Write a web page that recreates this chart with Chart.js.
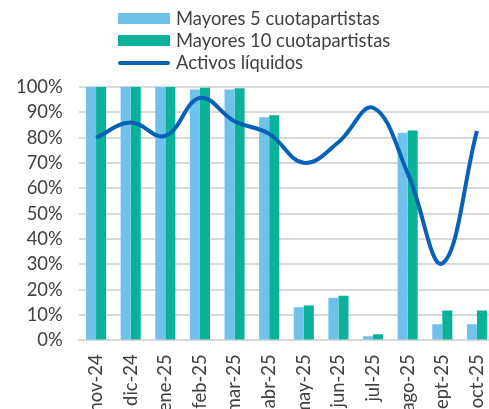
<!DOCTYPE html>
<html>
<head>
<meta charset="utf-8">
<script src="https://cdn.jsdelivr.net/npm/chart.js@4"></script>
<style>
    html, body { margin: 0; padding: 0; background: #fff; overflow: hidden; }
    #wrap { position: relative; width: 489px; height: 409px; overflow: hidden; }
    #box { position: absolute; left: 0; top: 0; width: 513px; height: 431px; }
    #legend { position: absolute; left: 118px; top: 7px; font-family: Lato, sans-serif; font-size: 18.4px; color: #404040; }
    .item { height: 22px; line-height: 22px; white-space: nowrap; }
    .sw { display: inline-block; width: 52px; height: 11px; vertical-align: middle; margin-right: 6px; margin-top: -3px; }
    .ln { display: inline-block; width: 52px; height: 4px; border-radius: 2px; vertical-align: middle; margin-right: 6px; margin-top: -3px; }
</style>
</head>
<body>
<div id="wrap">
    <div id="box"><canvas id="chart" width="513" height="431"></canvas></div>
    <div id="legend"></div>
</div>
<script>
const months = ['nov-24', 'dic-24', 'ene-25', 'feb-25', 'mar-25', 'abr-25', 'may-25', 'jun-25', 'jul-25', 'ago-25', 'sept-25', 'oct-25'];
const top5 = [100, 100, 100, 99, 99, 88.1, 13.1, 16.8, 1.6, 81.9, 6.4, 6.4];
const top10 = [100, 100, 100, 99.7, 99.5, 88.9, 13.8, 17.6, 2.4, 82.8, 11.8, 11.8];
const liquid = [80, 86, 80.7, 95.7, 86.5, 81.5, 70.1, 78.2, 91.8, 66, 30.4, 82.6];
const yTicks = [0, 10, 20, 30, 40, 50, 60, 70, 80, 90, 100];

const colTop5 = '#6FC2EA';
const colTop10 = '#0BB29A';
const colLine = '#0562B6';

document.getElementById('legend').innerHTML =
    `<div class="item"><span class="sw" style="background:${colTop5}"></span>Mayores 5 cuotapartistas</div>` +
    `<div class="item"><span class="sw" style="background:${colTop10}"></span>Mayores 10 cuotapartistas</div>` +
    `<div class="item"><span class="ln" style="background:${colLine}"></span>Activos líquidos</div>`;

const ctx = document.getElementById('chart').getContext('2d');
new Chart(ctx, {
    type: 'bar',
    data: {
        labels: months,
        datasets: [
            {
                type: 'line',
                label: 'Activos líquidos',
                data: liquid,
                borderColor: colLine,
                borderWidth: 4,
                pointRadius: 0,
                tension: 0.4,
                fill: false,
                order: 0
            },
            {
                label: 'Mayores 5 cuotapartistas',
                data: top5,
                backgroundColor: colTop5,
                categoryPercentage: 0.58,
                barPercentage: 1.0,
                order: 1
            },
            {
                label: 'Mayores 10 cuotapartistas',
                data: top10,
                backgroundColor: colTop10,
                categoryPercentage: 0.58,
                barPercentage: 1.0,
                order: 1
            }
        ]
    },
    options: {
        responsive: false,
        animation: false,
        layout: { padding: { top: 87, left: 0, right: 0, bottom: 0 } },
        plugins: { legend: { display: false }, tooltip: { enabled: false } },
        scales: {
            x: {
                grid: { display: false, drawTicks: false },
                border: { color: '#D9D9D9', width: 2 },
                ticks: {
                    minRotation: 90,
                    maxRotation: 90,
                    autoSkip: false,
                    color: '#404040',
                    font: { family: 'Lato', size: 18.4 },
                    padding: 14
                }
            },
            y: {
                min: 0,
                max: 100,
                afterBuildTicks: axis => { axis.ticks = yTicks.map(v => ({ value: v })); },
                grid: { color: '#D9D9D9', lineWidth: 2, drawTicks: false },
                border: { display: false },
                ticks: {
                    autoSkip: false,
                    color: '#404040',
                    font: { family: 'Lato', size: 18.4 },
                    padding: 16,
                    callback: v => v + '%'
                }
            }
        }
    }
});
</script>
</body>
</html>
